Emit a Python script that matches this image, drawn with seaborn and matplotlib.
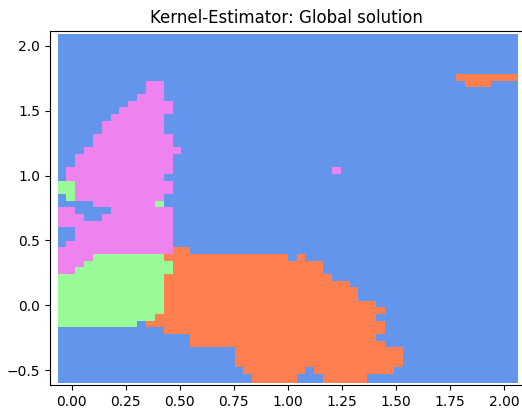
import numpy as np
import pandas as pd
import matplotlib
matplotlib.use("Agg")
import matplotlib.pyplot as plt
import seaborn as sns

# Predicted class on the evaluation grid, one run-length encoded row per
# y level, listed from the top row (largest y) down to the bottom row.
# b = class 0, o = class 1, p = class 2, g = class 3
REGION_ROWS = [
    "b52",
    "b52",
    "b52",
    "b52",
    "b52",
    "b52",
    "b45 o7",
    "b10 p2 b34 o3 b3",
    "b10 p2 b40",
    "b9 p3 b40",
    "b8 p5 b39",
    "b7 p6 b39",
    "b6 p6 b40",
    "b5 p7 b40",
    "b5 p7 b40",
    "b4 p9 b39",
    "b4 p9 b39",
    "b3 p11 b38",
    "b2 p11 b39",
    "b2 p11 b39",
    "b1 p12 b18 p1 b20",
    "b1 p11 b40",
    "g2 p11 b39",
    "g2 p11 b39",
    "b1 g1 p10 b40",
    "b4 p7 g1 b40",
    "p2 b4 p7 b39",
    "p3 b2 p8 b39",
    "p13 b39",
    "b2 p11 b39",
    "b2 p11 b39",
    "b1 p12 b39",
    "p13 o2 b37",
    "p4 g8 o14 b1 o1 b24",
    "p3 g10 o17 b22",
    "p2 g11 o17 b22",
    "g12 o19 b21",
    "g12 o21 b19",
    "g12 o22 b18",
    "g12 o22 b18",
    "g12 o24 b16",
    "g12 o25 b15",
    "g11 o25 b16",
    "g9 b1 o27 b15",
    "b12 o25 b15",
    "b15 o21 b16",
    "b15 o22 b15",
    "b20 o19 b13",
    "b20 o19 b13",
    "b20 o19 b13",
    "b21 o7 b1 o9 b14",
    "b22 o5 b3 o5 b17",
]

# Grid extent (cell centres) and resolution
X_FIRST, X_LAST, N_X = -0.0444, 2.0425, 52
Y_TOP, Y_BOTTOM, N_Y = 2.0586, -0.5664, 52

CLASS_COLORS = {
    "b": "cornflowerblue",
    "o": "coral",
    "p": "violet",
    "g": "palegreen",
}

X_TICKS = [0.0, 0.25, 0.5, 0.75, 1.0, 1.25, 1.5, 1.75, 2.0]
Y_TICKS = [-0.5, 0.0, 0.5, 1.0, 1.5, 2.0]
TITLE = "Kernel-Estimator: Global solution"


def expand(row):
    cells = []
    for run in row.split():
        cells.extend(run[0] * int(run[1:]))
    return cells


x_grid = np.linspace(X_FIRST, X_LAST, N_X)
y_grid = np.linspace(Y_TOP, Y_BOTTOM, N_Y)

records = []
for yv, row in zip(y_grid, REGION_ROWS):
    labels = expand(row)
    for xv, lab in zip(x_grid, labels):
        records.append((xv, yv, lab))
grid = pd.DataFrame(records, columns=["x", "y", "cls"])

fig = plt.figure(figsize=(5.22, 4.08), dpi=100)
ax = fig.add_axes([50 / 522, 23 / 408, 473 / 522, 354 / 408])

sns.scatterplot(
    data=grid, x="x", y="y", hue="cls", palette=CLASS_COLORS,
    marker="s", s=42.9, linewidth=0, legend=False, ax=ax,
)

ax.set_xlim(-0.1003, 2.0865)
ax.set_ylim(-0.6157, 2.1157)
ax.set_xticks(X_TICKS)
ax.set_yticks(Y_TICKS)
ax.set_xlabel("")
ax.set_ylabel("")
ax.set_title(TITLE, fontsize=12)

fig.savefig("out.png", dpi=100)
